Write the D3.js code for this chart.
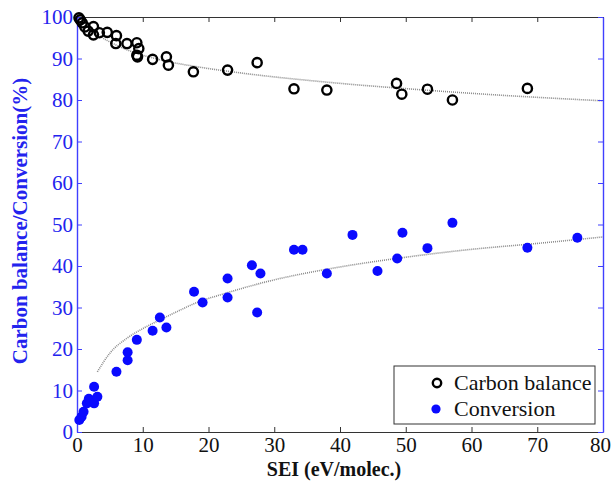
<!DOCTYPE html>
<html>
<head>
<meta charset="utf-8">
<script src="https://cdnjs.cloudflare.com/ajax/libs/d3/7.8.5/d3.min.js"></script>
<style>
  body { margin: 0; background: #fff; }
  svg { display: block; }
  text { font-family: "Liberation Serif", "DejaVu Serif", serif; }
</style>
</head>
<body>
<div id="chart"></div>
<script>
// Carbon balance (open circles)
const balanceSEI = [0.3, 0.5, 0.8, 1.2, 1.7, 2.5, 2.5, 3.4, 4.6, 6.0, 5.9, 7.6, 9.1, 9.4, 9.1, 9.2,
  11.5, 13.6, 13.9, 17.7, 22.9, 27.4, 33.0, 38.0, 48.6, 49.4, 53.3, 57.1, 68.5];
const balanceVal = [99.8, 99.3, 98.6, 97.6, 96.6, 97.7, 95.7, 96.2, 96.3, 95.5, 93.6, 93.6, 93.8, 92.4, 90.8, 90.4,
  89.8, 90.4, 88.4, 86.8, 87.2, 89.0, 82.7, 82.4, 84.0, 81.4, 82.6, 80.0, 82.8];

// Conversion (filled dots)
const conversionSEI = [0.35, 0.7, 1.0, 1.5, 1.8, 2.0, 2.6, 2.6, 3.1, 6.0, 7.7, 7.7, 9.1, 11.5, 12.6, 13.6,
  17.8, 19.1, 22.9, 22.9, 26.6, 27.9, 27.4, 33.0, 34.3, 38.0, 41.9, 45.7, 48.7, 49.5, 53.3, 57.1, 68.5, 76.1];
const conversionVal = [2.9, 3.7, 4.9, 6.9, 8.0, 7.5, 6.9, 10.9, 8.5, 14.5, 17.3, 19.2, 22.2, 24.4, 27.6, 25.2,
  33.8, 31.2, 37.0, 32.4, 40.2, 38.2, 28.8, 43.9, 43.9, 38.2, 47.5, 38.8, 41.8, 48.0, 44.3, 50.4, 44.4, 46.8];

// dotted trend lines
const balanceFitSEI = [1, 3, 6, 10, 12.6, 18.7, 25, 38, 52, 64, 80];
const balanceFitVal = [99.0, 96.0, 93.2, 90.8, 89.7, 87.9, 86.5, 84.3, 82.5, 81.2, 79.8];
const conversionFitSEI = [3.1, 5, 7.6, 10.1, 12.6, 15.2, 18.7, 21.7, 28.8, 39, 49, 59.3, 70.4, 80];
const conversionFitVal = [14.5, 19.0, 22.6, 25.0, 27.0, 29.0, 31.5, 33.0, 36.2, 39.5, 41.9, 43.9, 45.5, 47.0];

const xTicks = [0, 10, 20, 30, 40, 50, 60, 70, 80];
const yTicks = [0, 10, 20, 30, 40, 50, 60, 70, 80, 90, 100];
const legendLabels = ["Carbon balance", "Conversion"];

const width = 612, height = 482;
const margin = { top: 17, right: 9, bottom: 50, left: 77 };
const blueLine = "#4040ff", blueText = "#2323ee";
const font = "'Liberation Serif', 'DejaVu Serif', serif";

const svg = d3.select("#chart").append("svg")
  .attr("width", width)
  .attr("height", height);

const x = d3.scaleLinear().domain([0, 80]).range([margin.left, width - margin.right]);
const y = d3.scaleLinear().domain([0, 100]).range([height - margin.bottom, margin.top]);

// trend lines
const line = d3.line().x(d => x(d[0])).y(d => y(d[1])).curve(d3.curveMonotoneX);
[[balanceFitSEI, balanceFitVal], [conversionFitSEI, conversionFitVal]].forEach(([xs, ys]) => {
  svg.append("path")
    .datum(xs.map((v, i) => [v, ys[i]]))
    .attr("d", line)
    .attr("fill", "none")
    .attr("stroke", "#8a8a8a")
    .attr("stroke-width", 1.6)
    .attr("stroke-dasharray", "1,1");
});

// axes
const gBottom = svg.append("g")
  .attr("transform", `translate(0,${y(0)})`)
  .call(d3.axisBottom(x).tickValues(xTicks).tickSize(-5).tickSizeOuter(0).tickPadding(5));
const gTop = svg.append("g")
  .attr("transform", `translate(0,${y(100)})`)
  .call(d3.axisTop(x).tickValues(xTicks).tickSize(-5).tickSizeOuter(0).tickFormat(""));
const gLeft = svg.append("g")
  .attr("transform", `translate(${x(0)},0)`)
  .call(d3.axisLeft(y).tickValues(yTicks).tickSize(-5).tickSizeOuter(0).tickPadding(4));
const gRight = svg.append("g")
  .attr("transform", `translate(${x(80)},0)`)
  .call(d3.axisRight(y).tickValues(yTicks).tickSize(-5).tickSizeOuter(0).tickFormat(""));

[gBottom, gTop].forEach(g => {
  g.select(".domain").attr("stroke", "#333").attr("stroke-width", 1.2);
  g.selectAll(".tick line").attr("stroke", "#333");
});
[gLeft, gRight].forEach(g => {
  g.select(".domain").attr("stroke", blueLine).attr("stroke-width", 1.4);
  g.selectAll(".tick line").attr("stroke", blueLine);
});
svg.selectAll(".tick text").style("font-family", font).attr("font-size", 21);
gBottom.selectAll(".tick text").attr("fill", "#111");
// last x label sits against the right edge
gBottom.selectAll(".tick text").filter(d => d === 80).attr("dx", -3);
gLeft.selectAll(".tick text").attr("fill", blueText);

// axis titles
svg.append("text")
  .attr("x", 334).attr("y", 476)
  .attr("text-anchor", "middle")
  .style("font-family", font).attr("font-weight", "bold").attr("font-size", 20)
  .attr("fill", "#111")
  .text("SEI (eV/molec.)");
svg.append("text")
  .attr("transform", "translate(27,221) rotate(-90)")
  .attr("text-anchor", "middle")
  .style("font-family", font).attr("font-weight", "bold").attr("font-size", 21)
  .attr("fill", blueText)
  .text("Carbon balance/Conversion(%)");

// points
svg.append("g").selectAll("circle")
  .data(balanceSEI.map((v, i) => [v, balanceVal[i]]))
  .join("circle")
  .attr("cx", d => x(d[0])).attr("cy", d => y(d[1]))
  .attr("r", 4.6)
  .attr("fill", "none")
  .attr("stroke", "#000")
  .attr("stroke-width", 2.4);

svg.append("g").selectAll("circle")
  .data(conversionSEI.map((v, i) => [v, conversionVal[i]]))
  .join("circle")
  .attr("cx", d => x(d[0])).attr("cy", d => y(d[1]))
  .attr("r", 5)
  .attr("fill", "#0a0aff");

// legend
const legend = svg.append("g").attr("transform", "translate(394,366)");
legend.append("rect")
  .attr("width", 201).attr("height", 58)
  .attr("fill", "#fff").attr("stroke", "#333").attr("stroke-width", 1);
legendLabels.forEach((label, i) => {
  const cy = 17 + i * 26;
  if (i === 0) {
    legend.append("circle").attr("cx", 43).attr("cy", cy).attr("r", 4.2)
      .attr("fill", "none").attr("stroke", "#000").attr("stroke-width", 2.4);
  } else {
    legend.append("circle").attr("cx", 42).attr("cy", cy).attr("r", 4.6).attr("fill", "#0a0aff");
  }
  legend.append("text")
    .attr("x", 60).attr("y", cy + 7)
    .style("font-family", font).attr("font-size", 22)
    .attr("fill", "#111")
    .text(label);
});
</script>
</body>
</html>
